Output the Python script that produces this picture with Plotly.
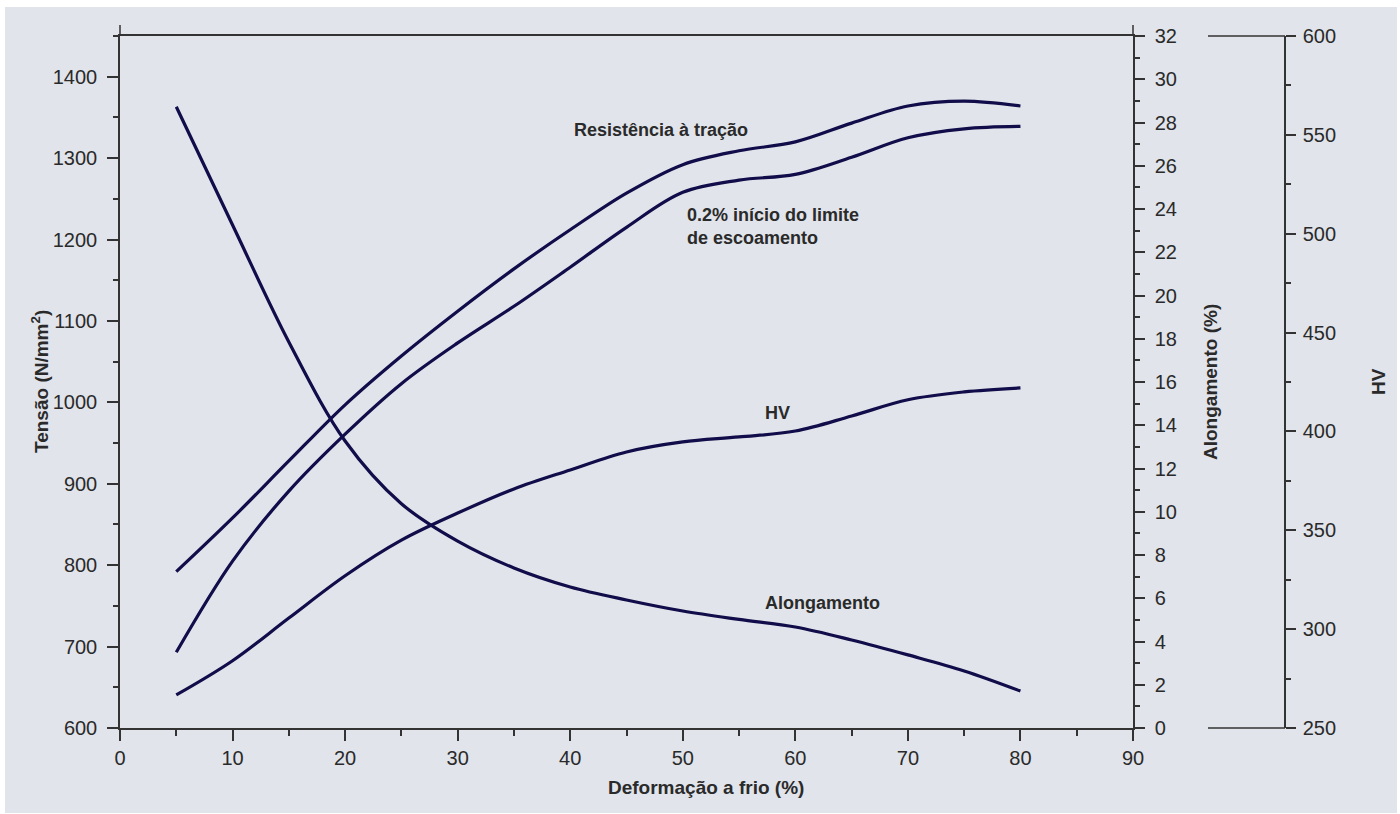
import plotly.graph_objects as go

# ---- data ----
deformacao = [5, 10, 15, 20, 25, 30, 35, 40, 45, 50, 55, 60, 65, 70, 75, 80]
resistencia = [792, 858, 928, 997, 1057, 1112, 1164, 1212, 1257, 1292, 1309, 1320, 1343, 1364, 1370, 1364]
escoamento = [693, 805, 891, 961, 1023, 1073, 1118, 1166, 1215, 1258, 1273, 1280, 1301, 1325, 1336, 1339]
hv = [266.7, 284, 305.6, 327, 345, 358.7, 370.9, 380.5, 389.6, 394.7, 397.2, 400.2, 407.8, 416, 420, 422]
alongamento = [28.73, 23.26, 17.85, 13.27, 10.37, 8.64, 7.40, 6.52, 5.92, 5.41, 5.02, 4.67, 4.07, 3.38, 2.64, 1.71]

x_ticks = list(range(0, 91, 10))
tensao_ticks = list(range(600, 1401, 100))
along_ticks = list(range(0, 33, 2))
hv_ticks = list(range(250, 601, 50))

# ---- styling ----
LINE = "#110c4a"
AX = "#333333"
BG = "#e1e4ea"
TXT = "#2a2a2a"
TICKFONT = dict(family="Liberation Sans", size=20, color=TXT)
BOLD = dict(family="Liberation Sans, Arial, Helvetica", size=18, color=TXT)
TITLE = dict(family="Liberation Sans, Arial, Helvetica", size=19, color=TXT)

W, H = 1400, 814
L, R, T, B = 120, 115, 36, 86
PW, PH = W - L - R, H - T - B
XD = 1013 / PW  # x-axis domain end (position of Alongamento axis)

def px(xpix):
    return (xpix - L) / PW

def py(ypix):
    return (H - B - ypix) / PH

fig = go.Figure()
common = dict(x=deformacao, mode="lines", line=dict(color=LINE, width=3.2, shape="spline", smoothing=1.0),
              showlegend=False, hoverinfo="skip")
fig.add_trace(go.Scatter(y=resistencia, yaxis="y", name="Resistência à tração", **common))
fig.add_trace(go.Scatter(y=escoamento, yaxis="y", name="0.2% início do limite de escoamento", **common))
fig.add_trace(go.Scatter(y=alongamento, yaxis="y2", name="Alongamento", **common))
fig.add_trace(go.Scatter(y=hv, yaxis="y3", name="HV", **common))

axis_common = dict(showline=True, linecolor=AX, linewidth=1.5, ticks="outside", tickcolor=AX,
                   tickwidth=1.5, showgrid=False, zeroline=False)

fig.update_layout(
    width=W, height=H,
    margin=dict(l=L, r=R, t=T, b=B),
    paper_bgcolor="white", plot_bgcolor=BG,
    xaxis=dict(domain=[0, XD], range=[0, 90], tickvals=x_ticks, ticklen=11, mirror=True,
               tickfont=TICKFONT,
               minor=dict(dtick=5, ticklen=6, tickcolor=AX, tickwidth=1.5, ticks="outside"),
               **axis_common),
    yaxis=dict(range=[600, 1450], tickvals=tensao_ticks, ticklen=11, ticklabelstandoff=6,
               tickfont=TICKFONT,
               minor=dict(dtick=50, tick0=600, ticklen=5, tickcolor=AX, tickwidth=1.5, ticks="outside"),
               **axis_common),
    yaxis2=dict(range=[0, 32], tickvals=along_ticks, overlaying="y", side="right", anchor="x", ticklen=10,
                ticklabelstandoff=6, tickfont=TICKFONT,
                minor=dict(dtick=1, ticklen=5, tickcolor=AX, tickwidth=1.5, ticks="outside"),
                **axis_common),
    yaxis3=dict(range=[250, 600], tickvals=hv_ticks, overlaying="y", side="right", anchor="free",
                position=1.0, ticklen=10, ticklabelstandoff=3, tickfont=TICKFONT,
                minor=dict(dtick=25, ticklen=5, tickcolor=AX, tickwidth=1.5, ticks="outside"),
                **axis_common),
)

shapes = [
    dict(type="rect", xref="paper", yref="paper", x0=px(5), x1=px(1397), y0=py(813), y1=py(7),
         fillcolor=BG, line=dict(width=0), layer="below"),
    dict(type="line", xref="paper", yref="paper", x0=0, x1=0, y0=1, y1=py(25), line=dict(color=AX, width=1.5)),
    dict(type="line", xref="paper", yref="paper", x0=XD, x1=XD, y0=1, y1=py(25), line=dict(color=AX, width=1.5)),
    dict(type="line", xref="paper", yref="paper", x0=px(1208), x1=1, y0=1, y1=1, line=dict(color=AX, width=1.5)),
    dict(type="line", xref="paper", yref="paper", x0=px(1208), x1=1, y0=0, y1=0, line=dict(color=AX, width=1.5)),
]
fig.update_layout(shapes=shapes)

ann = [
    dict(text="<b>Resistência à tração</b>", x=40.2, y=1334, xref="x", yref="y", xanchor="left", yanchor="middle",
         showarrow=False, font=BOLD),
    dict(text="<b>0.2% início do limite<br>de escoamento</b>", x=50.2, y=1216, xref="x", yref="y", xanchor="left",
         yanchor="middle", align="left", showarrow=False, font=BOLD),
    dict(text="<b>HV</b>", x=57.1, y=987, xref="x", yref="y", xanchor="left", yanchor="middle",
         showarrow=False, font=BOLD),
    dict(text="<b>Alongamento</b>", x=57.1, y=754, xref="x", yref="y", xanchor="left", yanchor="middle",
         showarrow=False, font=BOLD),
    dict(text="<b>Tensão (N/mm<sup>2</sup>)</b>", x=0, y=0.5, xref="paper", yref="paper", xshift=-80,
         textangle=-90, showarrow=False, font=TITLE, xanchor="center", yanchor="middle"),
    dict(text="<b>Alongamento (%)</b>", x=XD, y=0.5, xref="paper", yref="paper", xshift=77,
         textangle=-90, showarrow=False, font=TITLE, xanchor="center", yanchor="middle"),
    dict(text="<b>HV</b>", x=1, y=0.5, xref="paper", yref="paper", xshift=93,
         textangle=-90, showarrow=False, font=TITLE, xanchor="center", yanchor="middle"),
    dict(text="<b>Deformação a frio (%)</b>", x=px(706), y=0, xref="paper", yref="paper", yshift=-59,
         showarrow=False, font=TITLE, xanchor="center", yanchor="middle"),
]
fig.update_layout(annotations=ann)

fig.write_html("out.html")
